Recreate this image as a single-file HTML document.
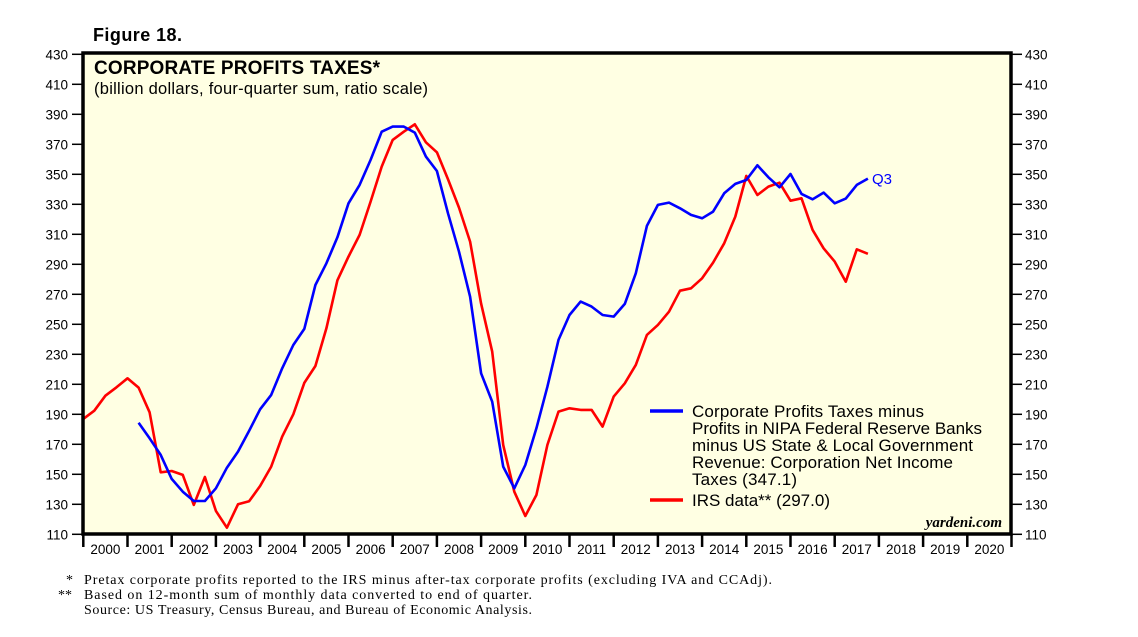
<!DOCTYPE html>
<html><head><meta charset="utf-8"><style>
body{margin:0;background:#fff;}
svg{display:block;font-family:"Liberation Sans",sans-serif;}
</style></head><body>
<svg id="chart" width="1138" height="637" viewBox="0 0 1138 637" xmlns="http://www.w3.org/2000/svg">
<text x="93" y="41" font-size="18" font-weight="bold" textLength="89">Figure 18.</text>
<rect x="83" y="53" width="928" height="481" fill="#ffffe3"/>
<g id="grid"></g>
<g id="series"></g>
<rect x="83" y="53" width="928" height="481" fill="none" stroke="#000" stroke-width="3.5"/>
<text x="94" y="74" font-size="19" font-weight="bold" textLength="286">CORPORATE PROFITS TAXES*</text>
<text x="94" y="94" font-size="16.5" textLength="334">(billion dollars, four-quarter sum, ratio scale)</text>
<g>
<line x1="650" y1="411" x2="683" y2="411" stroke="#0000ff" stroke-width="3.5"/>
<text font-size="17" fill="#000">
<tspan x="692" y="417" textLength="232">Corporate Profits Taxes minus</tspan>
<tspan x="692" y="434" textLength="290">Profits in NIPA Federal Reserve Banks</tspan>
<tspan x="692" y="451" textLength="281">minus US State &amp; Local Government</tspan>
<tspan x="692" y="468" textLength="261">Revenue: Corporation Net Income</tspan>
<tspan x="692" y="485" textLength="105">Taxes (347.1)</tspan>
</text>
<line x1="650" y1="500" x2="683" y2="500" stroke="#ff0000" stroke-width="3.5"/>
<text x="692" y="506" font-size="17" textLength="138">IRS data** (297.0)</text>
</g>
<text x="872" y="184" font-size="15" fill="#0000ff">Q3</text>
<text x="1002" y="527" font-size="15" font-style="italic" font-weight="bold" text-anchor="end" font-family="Liberation Serif, serif">yardeni.com</text>
<g font-family="Liberation Serif, serif" font-size="14">
<text x="66" y="584">*</text>
<text x="84" y="584" textLength="688">Pretax corporate profits reported to the IRS minus after-tax corporate profits (excluding IVA and CCAdj).</text>
<text x="58" y="599">**</text>
<text x="84" y="599" textLength="448">Based on 12-month sum of monthly data converted to end of quarter.</text>
<text x="84" y="614" textLength="448">Source: US Treasury, Census Bureau, and Bureau of Economic Analysis.</text>
</g>
</svg>
<script>
const yTicks=[110,130,150,170,190,210,230,250,270,290,310,330,350,370,390,410,430];
const years=[2000,2001,2002,2003,2004,2005,2006,2007,2008,2009,2010,2011,2012,2013,2014,2015,2016,2017,2018,2019,2020];
const redStart=0;
const redValues=[186.9,192.4,202.4,208,214,207.8,191.3,151.3,152.2,149.6,129.6,148.2,125.6,114.4,130,132,142.2,155.1,175.1,190,210.9,222.2,247.3,279.3,295.1,309.6,331.8,355.1,372.9,378.4,383.3,371.3,364.7,346.7,327.8,305.1,263.8,231.8,169.6,138.4,122.2,136.2,169.6,191.8,194,192.9,192.9,181.8,201.8,210.7,222.9,242.9,249.6,258.4,272.4,274,280.7,291.1,304,321.8,348.9,336.2,341.8,344.4,332.4,334,312.9,300.7,291.8,278.4,300,297];
const blueStart=5;
const blueValues=[184.4,174,162.9,146.9,138.4,132.2,132.2,140.7,154.4,165.1,178.9,193.3,202.9,220.7,236.2,246.9,276.2,290.7,308,330.7,342.9,359.6,378.4,381.8,381.8,377.8,361.8,352.2,324,298.4,268.4,217.3,198.4,155.1,140.7,156.2,180.7,208.4,239.6,256.2,265.1,261.8,256.2,255.1,263.6,284,315.6,329.6,331.1,327.3,322.9,320.7,325.1,337.3,343.6,346.2,356,348,341.3,350.2,336.9,333.3,337.8,330.7,333.8,342.9,347.1];
const NS='http://www.w3.org/2000/svg';
const X0=83.3,YEARW=44.2,QW=YEARW/4;
function xQ(i){return X0+i*QW;}
function xY(y){return X0+(y-2000)*YEARW;}
function yV(v){return 534.3-(v-110)*1.5;}
function mk(tag,attrs,parent){const e=document.createElementNS(NS,tag);for(const k in attrs)e.setAttribute(k,attrs[k]);parent.appendChild(e);return e;}
const g=document.getElementById('grid');
yTicks.forEach(v=>{
  const y=yV(v);
  const t1=mk('line',{x1:72,x2:83,y1:y,y2:y,stroke:'#000','stroke-width':1.5},g);
  
  
  const t2=mk('line',{x1:1011,x2:1022,y1:y,y2:y,stroke:'#000','stroke-width':1.5},g);
  
  
  const l1=mk('text',{x:68,y:y+5,'text-anchor':'end','font-size':13.5},g);
  l1.textContent=v;
  
  
  const l2=mk('text',{x:1025,y:y+5,'font-size':13.5},g);
  l2.textContent=v;
  
  
});
years.forEach(yr=>{
  const x=xY(yr);
  const t=mk('line',{x1:x,x2:x,y1:534,y2:547,stroke:'#000','stroke-width':2.5},g);
  
  
  const l=mk('text',{x:x+YEARW/2,y:554,'text-anchor':'middle','font-size':13.5},g);
  l.textContent=yr;
  
  
});
const endT=mk('line',{x1:xY(2021),x2:xY(2021),y1:534,y2:547,stroke:'#000','stroke-width':2.5},g);


const s=document.getElementById('series');
function line(vals,start,color,name){
  const d=vals.map((v,i)=>(i?'L':'M')+xQ(start+i).toFixed(1)+' '+yV(v).toFixed(1)).join(' ');
  const p=mk('path',{d:d,fill:'none',stroke:color,'stroke-width':2.6,'stroke-linejoin':'round'},s);
  
  
}
line(redValues,redStart,'#ff0000','irs-data-line');
line(blueValues,blueStart,'#0000ff','nipa-taxes-line');
</script>
</body></html>
